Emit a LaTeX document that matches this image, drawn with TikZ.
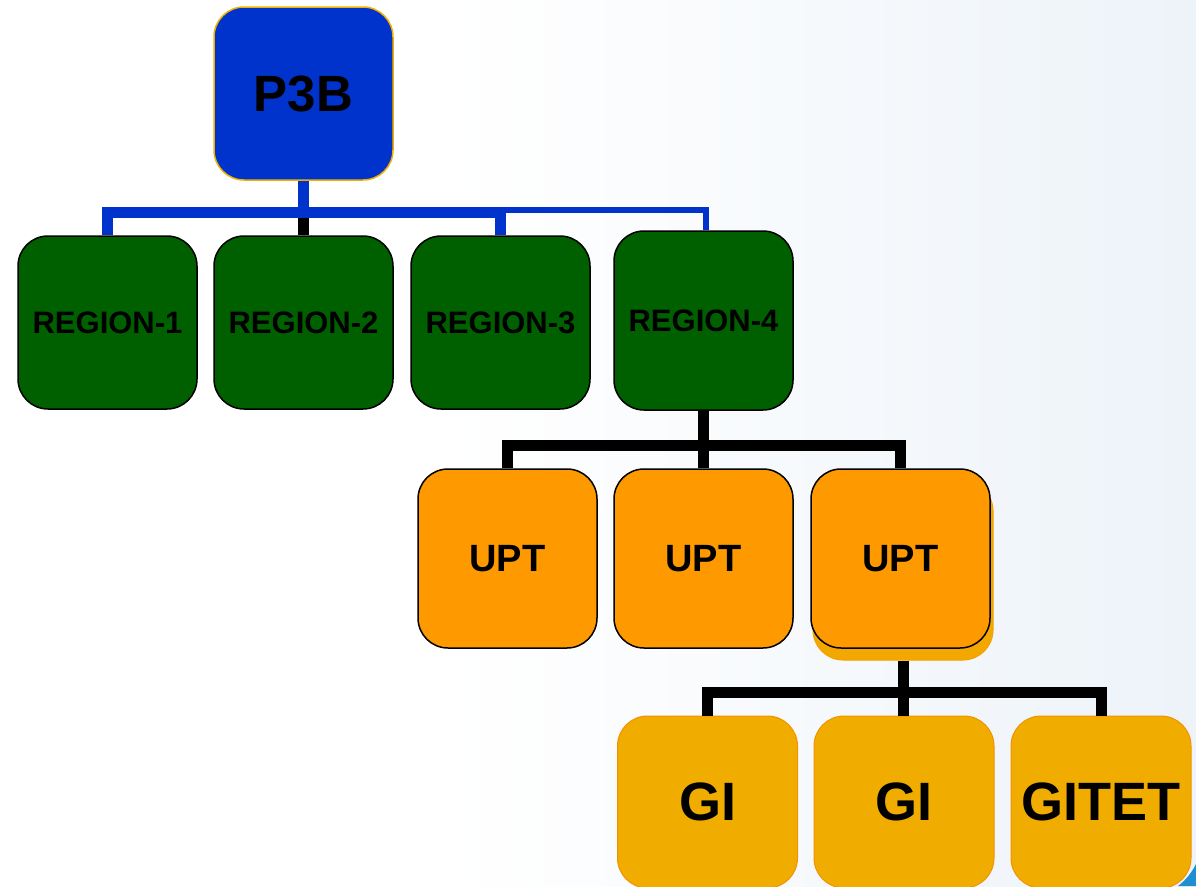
\documentclass[tikz,border=0pt]{standalone}
\usepackage{fontspec}
\setmainfont{Liberation Sans}
\definecolor{bgblue}{HTML}{EDF3F9}
\definecolor{topblue}{HTML}{0033CC}
\definecolor{topedge}{HTML}{F0B000}
\definecolor{regiongreen}{HTML}{006000}
\definecolor{uptorange}{HTML}{FF9900}
\definecolor{uptback}{HTML}{F2A800}
\definecolor{gifill}{HTML}{F0AD00}
\definecolor{giedge}{HTML}{F39200}
\definecolor{cornerblue}{HTML}{1E8FD0}
\tikzset{
  box/.style={rectangle, rounded corners=30pt, inner sep=0pt,
    minimum width=179pt, line width=1.5pt, text=black, align=center},
  topbox/.style={box, fill=topblue, draw=topedge, minimum height=173pt,
    font=\fontsize{51}{51}\selectfont\bfseries},
  regionbox/.style={box, fill=regiongreen, draw=black, minimum height=173pt,
    font=\fontsize{31}{31}\selectfont\bfseries},
  uptbox/.style={box, fill=uptorange, draw=black, minimum height=179pt,
    font=\fontsize{38}{38}\selectfont\bfseries},
  backbox/.style={box, fill=uptback, draw=uptback!80!orange, line width=1pt,
    minimum width=180pt, minimum height=179pt},
  gibox/.style={box, fill=gifill, draw=giedge, line width=1pt,
    minimum width=180pt, minimum height=172pt,
    font=\fontsize{54}{54}\selectfont\bfseries},
  bluebus/.style={draw=topblue, line width=11pt, line join=miter},
  thinbus/.style={draw=topblue, line width=6pt, line join=miter},
  blackbus/.style={draw=black, line width=11pt, line join=miter}
}
\begin{document}
\begin{tikzpicture}[x=1pt,y=-1pt]
\useasboundingbox (0,0) rectangle (1196,886);
% page background: white, fading to pale blue on the right
\fill[white] (0,0) rectangle (1196,886);
\shade[left color=white, right color=bgblue] (450,0) rectangle (1196,886);
\fill[cornerblue] (1178,886) .. controls (1186,880) and (1192,872) .. (1196,864) -- (1196,886) -- cycle;

% junction points of the buses
\coordinate (busA) at (303.5,212.5);
\coordinate (busT) at (503,210);
\coordinate (busB) at (703.5,445);
\coordinate (busC) at (903,692);

% top level
\node[topbox] (p3b) at (303.5,93.5) {P3B};

% regions
\node[regionbox] (r1) at (107.5,322.5) {REGION-1};
\node[regionbox] (r2) at (303.5,322.5) {REGION-2};
\node[regionbox] (r3) at (500.5,322.5) {REGION-3};
\node[regionbox, minimum height=179pt] (r4) at (703.5,320.5) {REGION-4};

% UPT level
\node[backbox] (u3back) at (903,570.5) {};
\node[uptbox] (u1) at (507.5,558.5) {UPT};
\node[uptbox] (u2) at (703.5,558.5) {UPT};
\node[uptbox] (u3) at (900.5,558.5) {UPT};

% GI level
\node[gibox] (g1) at (707.5,802) {GI};
\node[gibox] (g2) at (904,802) {GI};
\node[gibox] (g3) at (1101,802) {GITET};

% connectors P3B -> regions
\draw[blackbus] (busA) -- (r2.north);
\draw[thinbus] (busT) -| ([xshift=2.5pt]r4.north);
\draw[bluebus] (p3b.south) -- (busA);
\draw[bluebus] (r1.north) |- (busA) -| (r3.north);

% connectors REGION-4 -> UPT
\draw[blackbus] (r4.south) -- (busB);
\draw[blackbus] (u1.north) |- (busB) -| (u3.north);
\draw[blackbus] (busB) -- (busB |- u2.north);

% connectors UPT -> GI
\draw[blackbus] (u3back.south) -- (busC);
\draw[blackbus] (g1.north) |- (busC) -| (g3.north);
\draw[blackbus] (busC) -- (busC |- g2.north);
\end{tikzpicture}
\end{document}
